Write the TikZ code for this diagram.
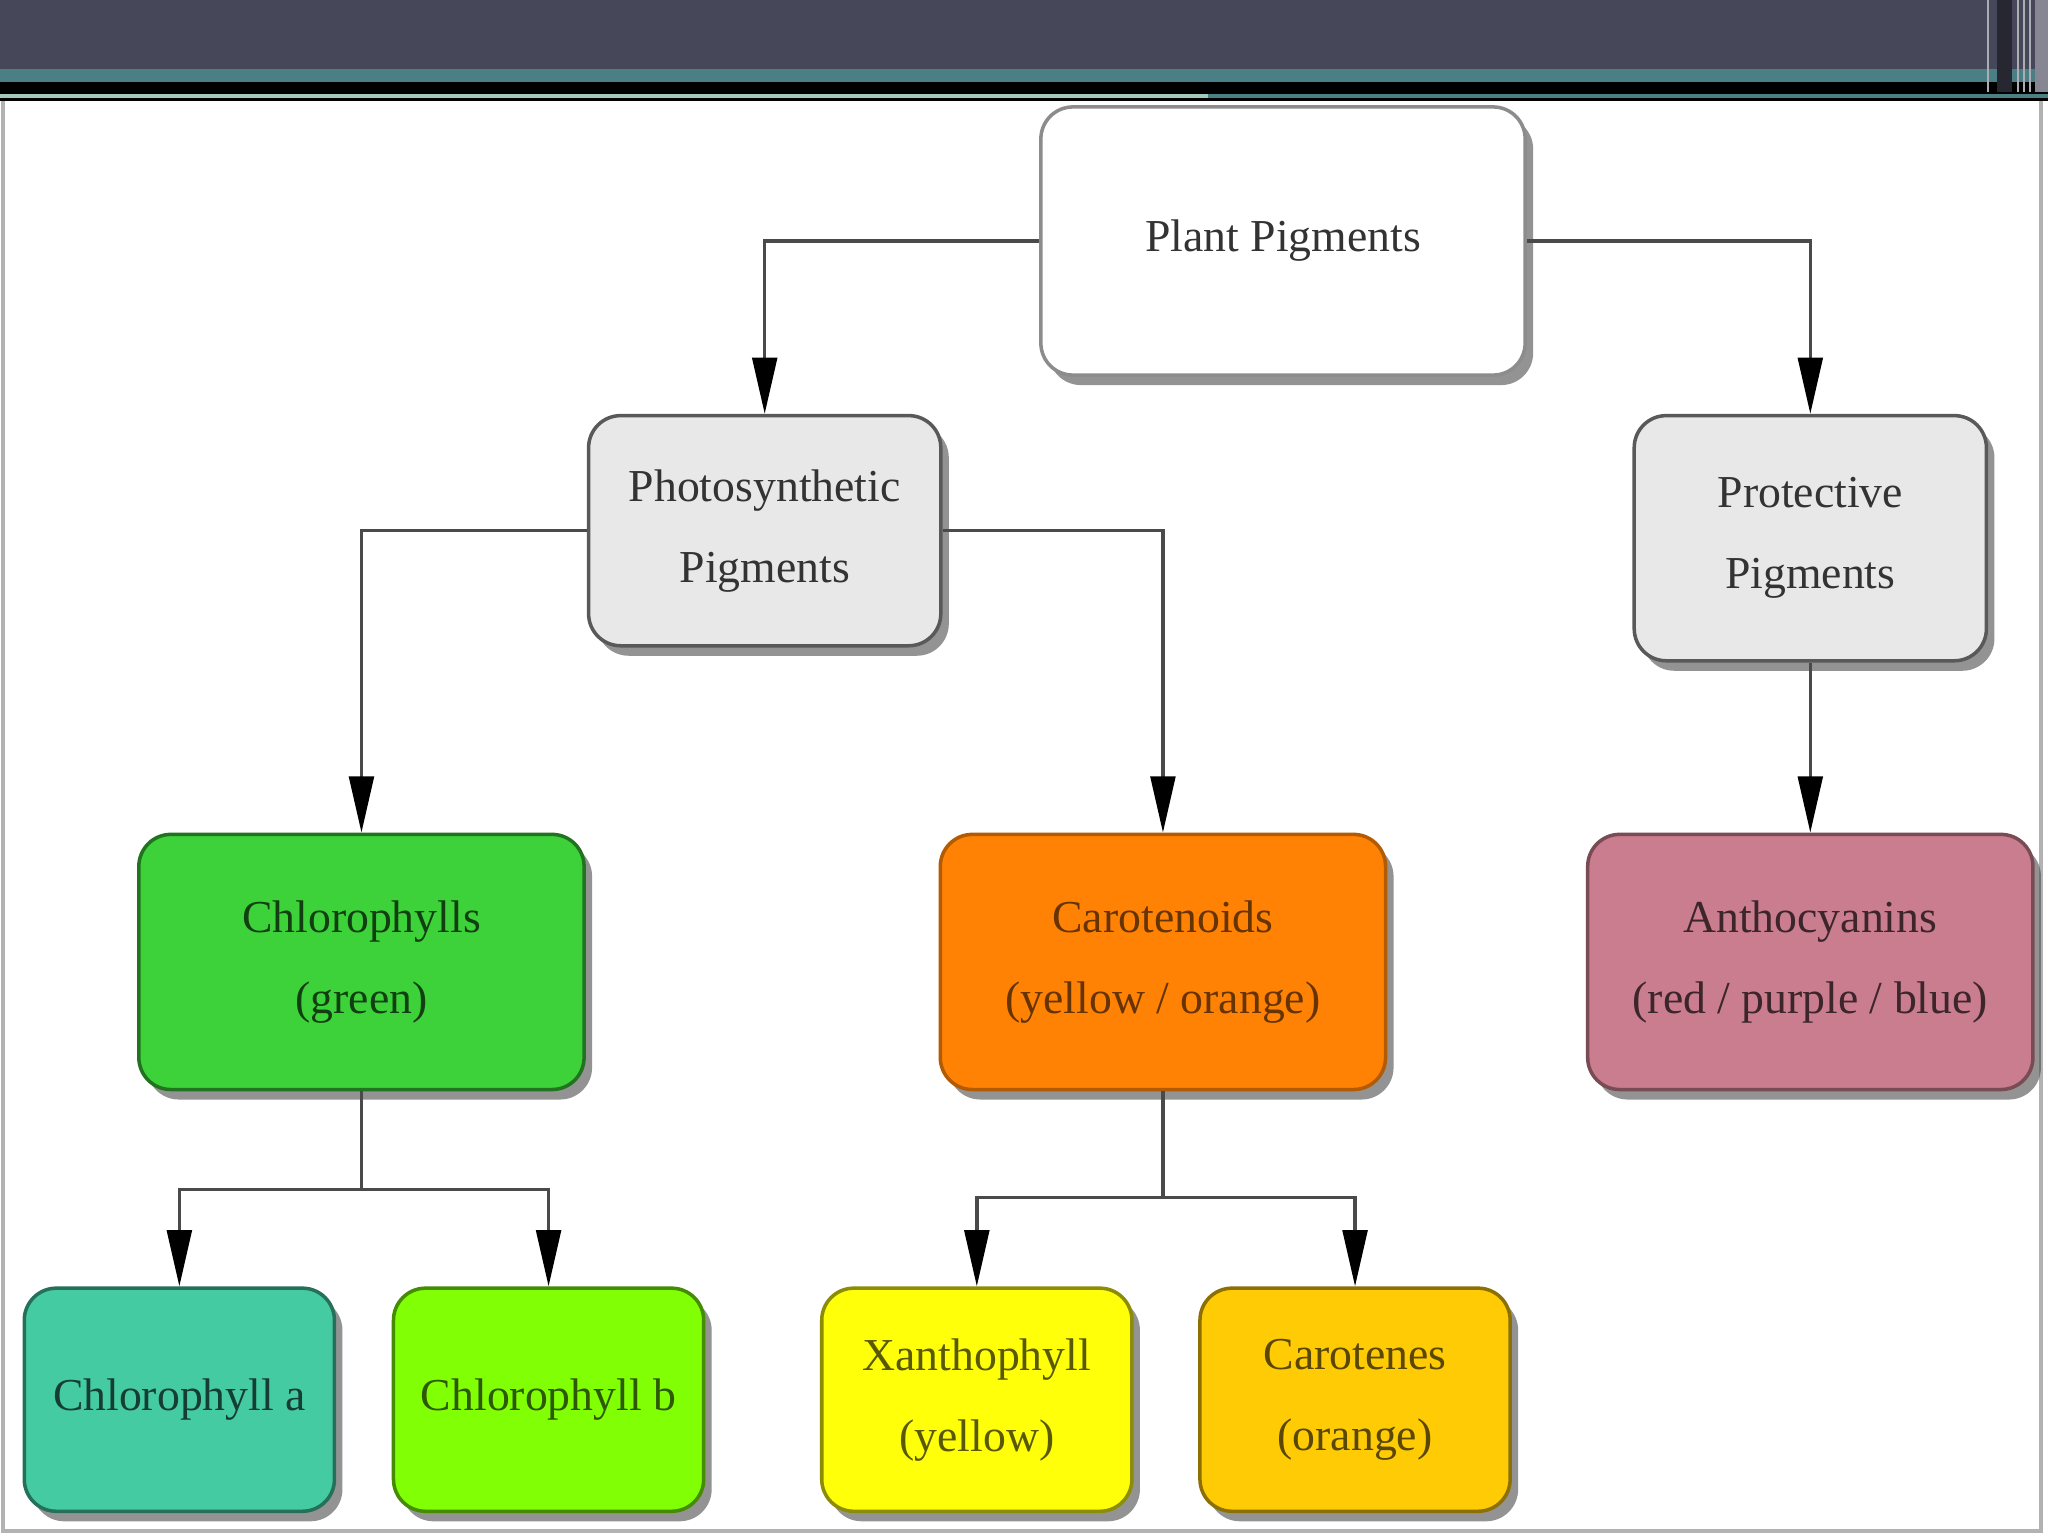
\documentclass[tikz,border=0pt]{standalone}
\usepackage{fontspec}
\setmainfont{Liberation Serif}
\usetikzlibrary{arrows.meta,positioning,shadows}

\definecolor{slate}{HTML}{464759}
\definecolor{tealband}{HTML}{4A8085}
\definecolor{palegreen}{HTML}{A4C9BA}
\definecolor{wire}{HTML}{4A4A4A}
\definecolor{chlgreen}{HTML}{3DD23A}
\definecolor{carorange}{HTML}{FF8205}
\definecolor{anthrose}{HTML}{C97D8E}
\definecolor{chlateal}{HTML}{45CBA2}
\definecolor{chlblime}{HTML}{80FF05}
\definecolor{xanyellow}{HTML}{FFFF0A}
\definecolor{cargold}{HTML}{FFCB05}

\tikzset{
  blk/.style={draw,rectangle,rounded corners=0.32cm,line width=1pt,align=center,
    font=\fontsize{13}{23}\selectfont,
    drop shadow={shadow xshift=0.08cm,shadow yshift=-0.1cm,fill=black!70,opacity=0.6}},
  topblk/.style={blk,minimum width=4.84cm,minimum height=2.68cm,fill=white,draw=black!45,text=black!80},
  midblk/.style={blk,minimum width=3.52cm,minimum height=2.3cm,fill=black!9,draw=black!65,text=black!80},
  colblk/.style={blk,minimum width=4.45cm,minimum height=2.55cm},
  leafblk/.style={blk,minimum width=3.1cm,minimum height=2.23cm},
  greenblk/.style={colblk,fill=chlgreen,draw=chlgreen!55!black,text=chlgreen!30!black},
  orangeblk/.style={colblk,fill=carorange,draw=carorange!70!black,text=carorange!40!black},
  roseblk/.style={colblk,fill=anthrose,draw=anthrose!60!black,text=anthrose!30!black},
  tealblk/.style={leafblk,fill=chlateal,draw=chlateal!55!black,text=chlateal!30!black},
  limeblk/.style={leafblk,fill=chlblime,draw=chlblime!55!black,text=chlblime!35!black},
  yellowblk/.style={leafblk,fill=xanyellow,draw=xanyellow!55!black,text=xanyellow!35!black},
  goldblk/.style={leafblk,fill=cargold,draw=cargold!55!black,text=cargold!35!black},
  arr/.style={-{Triangle[length=16pt,width=7pt,color=black]},line width=1pt,draw=wire},
  wireline/.style={line width=1pt,draw=wire}
}

\begin{document}
\begin{tikzpicture}[x=0.01cm,y=-0.01cm]
  \useasboundingbox (0,0) rectangle (2048,1536);

  % Slide header
  \fill[white] (0,101) rectangle (2048,1536);
  \fill[slate] (0,0) rectangle (2048,69);
  \fill[tealband] (0,69) rectangle (2048,82);
  \fill[black] (0,82) rectangle (2048,101);
  \fill[palegreen] (0,94) rectangle (1208,98);
  \fill[tealband] (1208,94) rectangle (2048,98);
  \fill[black!45!slate] (1997,0) rectangle (2012,92);
  \fill[white!35!slate] (2035,0) rectangle (2048,92);
  \foreach \sx in {1987,2017,2023,2029}
    \fill[white!55!slate] (\sx,0) rectangle ++(2,92);
  \draw[black!30,line width=1.2pt] (3,101) -- (3,1531) -- (2041,1531) -- (2041,101);

  % Top level
  \node[topblk] (plant) at (1283,241) {Plant Pigments};
  \node[midblk, below=0.37cm of plant, xshift=-5.18cm] (photo) {Photosynthetic\\Pigments};
  \node[midblk, minimum height=2.45cm, below=0.37cm of plant, xshift=5.27cm] (prot) {Protective\\Pigments};

  % Pigment groups
  \node[greenblk, below=1.85cm of photo, xshift=-4.03cm] (chl) {Chlorophylls\\(green)};
  \node[orangeblk, below=1.85cm of photo, xshift=3.98cm] (carot) {Carotenoids\\(yellow / orange)};
  \node[roseblk, below=1.70cm of prot] (antho) {Anthocyanins\\(red / purple / blue)};

  % Single pigments
  \node[tealblk, below=1.95cm of chl, xshift=-1.82cm] (chla) {Chlorophyll a};
  \node[limeblk, below=1.95cm of chl, xshift=1.87cm] (chlb) {Chlorophyll b};
  \node[yellowblk, below=1.95cm of carot, xshift=-1.86cm] (xan) {Xanthophyll\\(yellow)};
  \node[goldblk, below=1.95cm of carot, xshift=1.92cm] (carn) {Carotenes\\(orange)};

  \draw[arr] (plant.west) -| (photo.north);
  \draw[arr] (plant.east) -| (prot.north);
  \draw[arr] (photo.west) -| (chl.north);
  \draw[arr] (photo.east) -| (carot.north);
  \draw[arr] (prot) -- (antho);
  \draw[wireline] (chl.south) -- ++(0,-0.98cm) coordinate (chlsplit);
  \draw[arr] (chlsplit) -| (chla.north);
  \draw[arr] (chlsplit) -| (chlb.north);
  \draw[wireline] (carot.south) -- ++(0,-1.06cm) coordinate (carsplit);
  \draw[arr] (carsplit) -| (xan.north);
  \draw[arr] (carsplit) -| (carn.north);
\end{tikzpicture}
\end{document}
